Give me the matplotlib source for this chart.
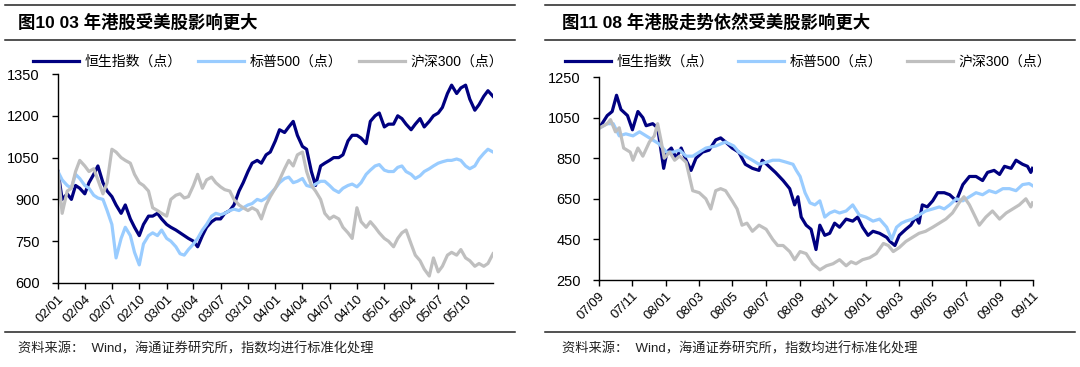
import matplotlib
matplotlib.use("Agg")
import matplotlib.pyplot as plt
from matplotlib.lines import Line2D
import pandas as pd

plt.rcParams['font.family'] = ['Liberation Sans', 'Noto Sans CJK SC', 'DejaVu Sans']

# ---- left panel: 2002-2005, half-monthly readings ----
left_dates = pd.date_range('2002-01-01', '2006-01-01', freq='SMS')
left_hsi = [1000, 900, 920, 900, 950, 940, 920, 960, 990, 1020, 960, 930, 910, 880, 850, 880,
            830, 800, 770, 810, 840, 840, 850, 830, 810, 800, 790, 780, 770, 760, 750, 730,
            770, 800, 820, 830, 830, 850, 860, 880, 930, 960, 1000, 1030, 1040, 1030, 1060, 1070,
            1110, 1150, 1140, 1160, 1180, 1130, 1090, 1080, 1000, 950, 1020, 1030, 1040, 1050, 1050, 1060,
            1110, 1130, 1130, 1120, 1100, 1180, 1200, 1210, 1160, 1170, 1170, 1200, 1190, 1170, 1150, 1170,
            1190, 1160, 1180, 1200, 1210, 1230, 1280, 1310, 1280, 1300, 1310, 1260, 1220, 1240, 1270, 1290,
            1270]
left_spx = [1000, 970, 950, 940, 990, 975, 950, 940, 915, 905, 900, 860, 810, 690, 760, 800,
            770, 710, 665, 740, 770, 780, 770, 790, 760, 750, 730, 705, 700, 720, 740, 760,
            790, 810, 840, 850, 845, 850, 860, 865, 860, 870, 880, 885, 900, 895, 905, 920,
            940, 960, 975, 980, 960, 965, 975, 950, 945, 955, 965, 965, 950, 935, 925, 940,
            950, 955, 945, 960, 990, 1005, 1020, 1025, 1005, 1000, 1000, 1015, 1020, 1000, 990, 975,
            985, 1000, 1010, 1020, 1030, 1035, 1040, 1040, 1045, 1040, 1020, 1010, 1020, 1045, 1065, 1080,
            1070]
left_csi = [1000, 850, 930, 940, 1000, 1040, 1020, 1000, 1010, 970, 920, 960, 1080, 1070, 1050, 1040,
            1030, 990, 960, 950, 930, 870, 860, 850, 840, 900, 915, 920, 905, 910, 950, 990,
            940, 970, 980, 960, 945, 935, 930, 900, 880, 870, 860, 870, 860, 830, 880, 910,
            940, 970, 1010, 1040, 1020, 1060, 1070, 1000, 950, 930, 900, 850, 830, 840, 830, 800,
            780, 760, 870, 820, 800, 820, 800, 780, 760, 750, 730, 760, 780, 790, 740, 700,
            680, 650, 625, 690, 640, 660, 700, 710, 700, 720, 690, 680, 660, 670, 660, 670,
            705]
left_ticks = pd.date_range('2002-01-01', '2005-10-01', freq='QS')

# ---- right panel: 2007/09 - 2009/11 ----
r_hsi_dates = ['2007-09-03', '2007-09-16', '2007-09-25', '2007-10-03', '2007-10-11', '2007-10-23',
               '2007-11-01', '2007-11-11', '2007-11-20', '2007-11-26', '2007-12-08', '2007-12-17',
               '2007-12-28', '2008-01-03', '2008-01-11', '2008-01-20', '2008-01-29', '2008-02-07',
               '2008-02-16', '2008-02-25', '2008-03-08', '2008-03-20', '2008-04-01', '2008-04-10',
               '2008-04-19', '2008-05-01', '2008-05-13', '2008-05-25', '2008-06-07', '2008-06-19',
               '2008-06-25', '2008-07-07', '2008-07-19', '2008-08-02', '2008-08-14', '2008-08-23',
               '2008-08-29', '2008-09-04', '2008-09-13', '2008-09-22', '2008-10-01', '2008-10-08',
               '2008-10-17', '2008-10-26', '2008-11-04', '2008-11-13', '2008-11-25', '2008-12-07',
               '2008-12-16', '2008-12-25', '2009-01-04', '2009-01-13', '2009-01-25', '2009-02-07',
               '2009-02-13', '2009-02-22', '2009-03-02', '2009-03-14', '2009-03-23', '2009-04-01',
               '2009-04-07', '2009-04-13', '2009-04-22', '2009-05-02', '2009-05-11', '2009-05-23',
               '2009-06-02', '2009-06-14', '2009-06-26', '2009-07-08', '2009-07-20', '2009-08-01',
               '2009-08-10', '2009-08-22', '2009-09-01', '2009-09-10', '2009-09-22', '2009-10-01',
               '2009-10-13', '2009-10-22', '2009-10-28', '2009-10-31']
r_hsi = [1005, 1060, 1080, 1160, 1090, 1060, 990, 1080, 1050, 1010, 1020, 1000,
         800, 880, 900, 850, 900, 840, 790, 850, 880, 890, 940, 950,
         930, 900, 880, 820, 800, 790, 840, 810, 780, 740, 700, 620,
         660, 560, 520, 500, 400, 520, 470, 480, 530, 510, 550, 540,
         560, 510, 470, 490, 480, 460, 440, 420, 470, 500, 520, 560,
         530, 620, 610, 640, 680, 680, 670, 640, 720, 760, 760, 740,
         780, 790, 770, 810, 800, 840, 820, 810, 780, 800]

r_spx_dates = ['2007-09-03', '2007-09-16', '2007-09-27', '2007-10-08', '2007-10-20', '2007-11-02',
               '2007-11-14', '2007-11-26', '2007-12-08', '2007-12-20', '2008-01-02', '2008-01-14',
               '2008-01-26', '2008-02-07', '2008-02-19', '2008-03-02', '2008-03-14', '2008-04-01',
               '2008-04-19', '2008-05-04', '2008-05-13', '2008-05-25', '2008-06-07', '2008-06-19',
               '2008-07-02', '2008-07-14', '2008-07-26', '2008-08-08', '2008-08-20', '2008-08-26',
               '2008-09-02', '2008-09-11', '2008-09-20', '2008-09-29', '2008-10-08', '2008-10-17',
               '2008-10-26', '2008-11-04', '2008-11-13', '2008-11-25', '2008-12-07', '2008-12-19',
               '2008-12-31', '2009-01-13', '2009-01-25', '2009-02-07', '2009-02-16', '2009-02-25',
               '2009-03-06', '2009-03-14', '2009-03-26', '2009-04-07', '2009-04-19', '2009-05-02',
               '2009-05-14', '2009-05-23', '2009-06-02', '2009-06-14', '2009-06-26', '2009-07-08',
               '2009-07-20', '2009-08-01', '2009-08-13', '2009-08-25', '2009-09-07', '2009-09-19',
               '2009-10-01', '2009-10-13', '2009-10-25', '2009-10-31']
r_spx = [1000, 1020, 1020, 960, 970, 960, 980, 960, 940, 920, 880, 880,
         890, 860, 860, 880, 900, 910, 930, 910, 880, 860, 840, 820,
         830, 840, 840, 830, 820, 790, 760, 680, 630, 620, 640, 560,
         580, 590, 580, 590, 620, 570, 560, 540, 550, 510, 450, 510,
         530, 540, 550, 570, 590, 600, 610, 600, 620, 650, 640, 660,
         680, 670, 690, 680, 700, 700, 690, 720, 725, 715]

r_csi_dates = ['2007-09-03', '2007-09-16', '2007-09-22', '2007-10-01', '2007-10-08', '2007-10-16',
               '2007-10-28', '2007-11-02', '2007-11-11', '2007-11-20', '2007-12-02', '2007-12-11',
               '2007-12-17', '2007-12-23', '2007-12-29', '2008-01-08', '2008-01-17', '2008-01-26',
               '2008-02-07', '2008-02-19', '2008-03-02', '2008-03-14', '2008-03-23', '2008-04-01',
               '2008-04-10', '2008-04-19', '2008-05-01', '2008-05-10', '2008-05-19', '2008-05-28',
               '2008-06-07', '2008-06-19', '2008-07-02', '2008-07-14', '2008-07-23', '2008-08-02',
               '2008-08-14', '2008-08-23', '2008-09-02', '2008-09-13', '2008-09-25', '2008-10-08',
               '2008-10-20', '2008-11-01', '2008-11-13', '2008-11-25', '2008-12-04', '2008-12-13',
               '2008-12-25', '2009-01-07', '2009-01-19', '2009-02-01', '2009-02-10', '2009-02-19',
               '2009-03-02', '2009-03-14', '2009-03-26', '2009-04-07', '2009-04-19', '2009-05-02',
               '2009-05-14', '2009-05-26', '2009-06-07', '2009-06-19', '2009-06-28', '2009-07-08',
               '2009-07-17', '2009-07-26', '2009-08-07', '2009-08-19', '2009-09-01', '2009-09-13',
               '2009-09-25', '2009-10-07', '2009-10-19', '2009-10-28', '2009-10-31']
r_csi = [1000, 1020, 1040, 980, 1000, 900, 880, 840, 900, 860, 930, 960,
         1020, 940, 850, 880, 840, 860, 830, 690, 680, 650, 600, 690,
         700, 690, 640, 600, 520, 530, 490, 520, 500, 450, 420, 420,
         390, 350, 390, 380, 330, 300, 320, 330, 350, 320, 340, 330,
         350, 360, 380, 430, 420, 390, 410, 440, 460, 480, 490, 510,
         530, 550, 580, 630, 660, 620, 570, 520, 560, 590, 550, 580,
         600, 620, 650, 610, 630]
right_ticks = pd.date_range('2007-09-01', '2009-11-01', freq='2MS')

names = ['恒生指数（点）', '标普500（点）', '沪深300（点）']
colors = ['#000080', '#99ccff', '#bfbfbf']

fig = plt.figure(figsize=(10.8, 3.67), dpi=100)
W, H = 1080.0, 367.0


def rule(x0, x1, y):
    fig.add_artist(Line2D([x0 / W, x1 / W], [1 - y / H, 1 - y / H], color='#222222', lw=1.1))


def style(ax, ticks, ylim, yticks):
    for s in ['top', 'right']:
        ax.spines[s].set_visible(False)
    ax.spines['left'].set_linewidth(1.0)
    ax.spines['bottom'].set_linewidth(1.0)
    ax.set_ylim(*ylim)
    ax.set_yticks(yticks)
    ax.set_xticks(ticks)
    ax.set_xticklabels([d.strftime('%y/%m') for d in ticks], rotation=45, ha='right',
                       rotation_mode='anchor', fontsize=9.5)
    ax.tick_params(axis='y', direction='out', length=4, width=1, pad=9, labelsize=10.5)
    ax.tick_params(axis='x', direction='out', length=4, width=1, pad=3)


# left
ax1 = fig.add_axes([58 / W, 1 - 283 / H, 435 / W, 209 / H])
ax1.plot(left_dates, left_hsi, color=colors[0], lw=2.3, label=names[0])
ax1.plot(left_dates, left_spx, color=colors[1], lw=2.3, label=names[1])
ax1.plot(left_dates, left_csi, color=colors[2], lw=2.3, label=names[2])
ax1.set_xlim(pd.Timestamp('2002-01-01'), pd.Timestamp('2006-01-01'))
style(ax1, left_ticks, (600, 1350), [600, 750, 900, 1050, 1200, 1350])
ax1.legend(loc='center', bbox_to_anchor=(268 / W, 1 - 62 / H), bbox_transform=fig.transFigure,
           ncol=3, frameon=False, fontsize=10, handlelength=3.3, handletextpad=0.4,
           columnspacing=1.2, borderpad=0)

# right
ax2 = fig.add_axes([599 / W, 1 - 280 / H, 434 / W, 203 / H])
ax2.plot(pd.to_datetime(r_hsi_dates), r_hsi, color=colors[0], lw=2.3, label=names[0])
ax2.plot(pd.to_datetime(r_spx_dates), r_spx, color=colors[1], lw=2.3, label=names[1])
ax2.plot(pd.to_datetime(r_csi_dates), r_csi, color=colors[2], lw=2.3, label=names[2])
ax2.set_xlim(pd.Timestamp('2007-09-01'), pd.Timestamp('2009-11-01'))
style(ax2, right_ticks, (250, 1250), [250, 450, 650, 850, 1050, 1250])
ax2.legend(loc='center', bbox_to_anchor=(808 / W, 1 - 62 / H), bbox_transform=fig.transFigure,
           ncol=3, frameon=False, fontsize=10, handlelength=3.3, handletextpad=0.4,
           columnspacing=1.8, borderpad=0)

# titles, rules and sources
rule(5, 515, 5)
rule(5, 515, 40)
rule(5, 515, 332)
rule(545, 1075, 5)
rule(545, 1075, 40)
rule(545, 1075, 332)
fig.text(18 / W, 1 - 22 / H, '图10 03 年港股受美股影响更大', fontsize=12.5, fontweight='bold', va='center')
fig.text(562 / W, 1 - 22 / H, '图11 08 年港股走势依然受美股影响更大', fontsize=12.5, fontweight='bold', va='center')
src = '资料来源：  Wind，海通证券研究所，指数均进行标准化处理'
fig.text(18 / W, 1 - 349 / H, src, fontsize=9.5, va='center', color='#222222')
fig.text(562 / W, 1 - 349 / H, src, fontsize=9.5, va='center', color='#222222')

fig.savefig('out.png', dpi=100)
